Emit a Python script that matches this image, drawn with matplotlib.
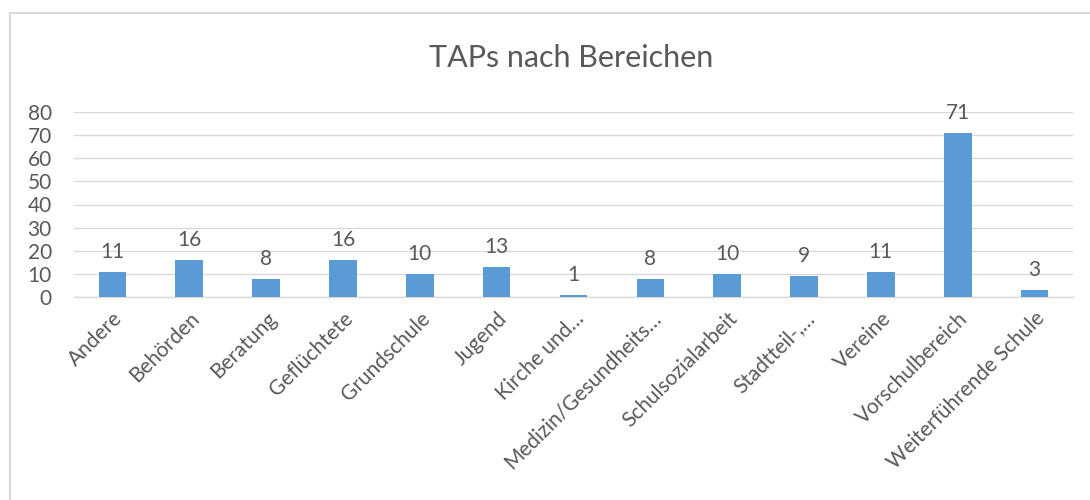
import matplotlib.pyplot as plt
from matplotlib.patches import Rectangle

# data
bereiche = ['Andere', 'Behörden', 'Beratung', 'Geflüchtete', 'Grundschule', 'Jugend',
            'Kirche und…', 'Medizin/Gesundheits…', 'Schulsozialarbeit', 'Stadtteil-,…',
            'Vereine', 'Vorschulbereich', 'Weiterführende Schule']
anzahl = [11, 16, 8, 16, 10, 13, 1, 8, 10, 9, 11, 71, 3]
y_ticks = [0, 10, 20, 30, 40, 50, 60, 70, 80]

plt.rcParams['font.family'] = ['Lato', 'DejaVu Sans']
grau = '#595959'

fig = plt.figure(figsize=(10.9, 5.0), dpi=100)
ax = fig.add_axes([74/1090, 1 - 297/500, (1073-74)/1090, (297-112)/500])

x = range(len(bereiche))
bars = ax.bar(x, anzahl, width=0.36, color='#5B9BD5', zorder=3)
for b, v in zip(bars, anzahl):
    ax.annotate(str(v), (b.get_x() + b.get_width()/2, v), xytext=(0, 7),
                textcoords='offset points', ha='center', va='bottom',
                fontsize=15, color=grau)

ax.set_xlim(-0.5, len(bereiche) - 0.5)
ax.set_ylim(0, 80)
ax.set_yticks(y_ticks)
ax.set_xticks(list(x))
ax.set_xticklabels(bereiche, rotation=45, ha='right', rotation_mode='anchor')
ax.tick_params(axis='both', length=0, labelsize=15, labelcolor=grau)
ax.tick_params(axis='y', pad=16)
ax.tick_params(axis='x', pad=8)
ax.grid(axis='y', color='#D9D9D9', linewidth=1, zorder=0)
for s in ['top', 'right', 'left']:
    ax.spines[s].set_visible(False)
ax.spines['bottom'].set_color('#D9D9D9')
ax.spines['bottom'].set_linewidth(1)

fig.text(571/1090, 1 - 58/500, 'TAPs nach Bereichen', ha='center', va='center',
         fontsize=22, color=grau)

# rahmen um das diagramm
fig.patches.append(Rectangle((10/1090, -0.1), 1.2, 1.1 - 13/500,
                             transform=fig.transFigure, fill=False,
                             edgecolor='#D9D9D9', linewidth=1.5))

fig.savefig('out.png', dpi=100)
